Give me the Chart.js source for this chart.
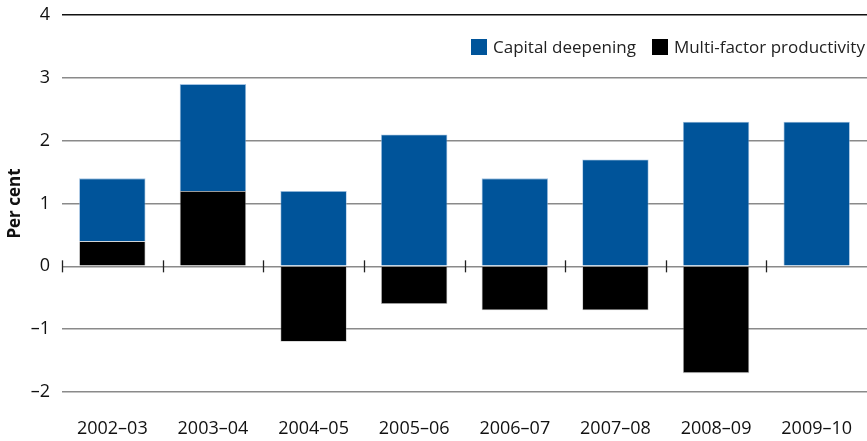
<!DOCTYPE html>
<html>
<head>
<meta charset="utf-8">
<script src="https://cdn.jsdelivr.net/npm/chart.js@4.4.1/dist/chart.umd.min.js"></script>
<style>
  html, body { margin: 0; padding: 0; background: #fff; }
  #wrap { position: relative; width: 867px; height: 441px; }
  #leyenda {
    position: absolute; top: 35px; left: 471px;
    font-family: "Open Sans", sans-serif; font-size: 17px; color: #222;
    display: flex; align-items: center; white-space: nowrap;
  }
  #leyenda .caja { width: 16px; height: 16px; display: inline-block; margin-right: 6px; }
  #leyenda .item { display: flex; align-items: center; margin-right: 16px; }
</style>
</head>
<body>
<div id="wrap">
  <canvas id="grafico" width="867" height="441"></canvas>
  <div id="leyenda">
    <span class="item"><span class="caja" style="background:#00549a"></span>Capital deepening</span>
    <span class="item" style="margin-right:0"><span class="caja" style="background:#000"></span>Multi-factor productivity</span>
  </div>
</div>
<script>
// Datos del gráfico
const periodos = ['2002–03', '2003–04', '2004–05', '2005–06', '2006–07', '2007–08', '2008–09', '2009–10'];
const capitalDeepening = [1.0, 1.7, 1.2, 2.1, 1.4, 1.7, 2.3, 2.3];
const multiFactor      = [0.4, 1.2, -1.2, -0.6, -0.7, -0.7, -1.7, 0.0];
const ticksY = [-2, -1, 0, 1, 2, 3, 4];

const AZUL = '#00549a';
const FUENTE = '"Open Sans", sans-serif';

// Marcas verticales sobre la línea del cero, en los límites de cada categoría
const marcasCero = {
    id: 'marcasCero',
    afterDatasetsDraw(chart) {
        const { ctx, scales: { x, y } } = chart;
        const y0 = y.getPixelForValue(0);
        const paso = x.getPixelForValue(1) - x.getPixelForValue(0);
        ctx.save();
        ctx.strokeStyle = '#222';
        ctx.lineWidth = 1.3;
        for (let i = 0; i < periodos.length; i++) {
            const px = Math.round(x.getPixelForValue(i) - paso / 2) + 0.5;
            ctx.beginPath();
            ctx.moveTo(px, y0 - 6);
            ctx.lineTo(px, y0 + 6);
            ctx.stroke();
        }
        ctx.restore();
    }
};

new Chart(document.getElementById('grafico'), {
    type: 'bar',
    data: {
        labels: periodos,
        datasets: [
            {
                label: 'Multi-factor productivity',
                data: multiFactor,
                backgroundColor: '#000',
                borderColor: 'rgba(150,150,150,0.6)',
                borderWidth: 0.8,
                barPercentage: 0.66,
                categoryPercentage: 1
            },
            {
                label: 'Capital deepening',
                data: capitalDeepening,
                backgroundColor: AZUL,
                borderColor: 'rgba(140,180,220,0.8)',
                borderWidth: 0.8,
                barPercentage: 0.66,
                categoryPercentage: 1
            }
        ]
    },
    options: {
        responsive: false,
        animation: false,
        layout: { padding: { top: 15, right: 0, left: 0, bottom: 0 } },
        plugins: {
            legend: { display: false },
            tooltip: { enabled: false }
        },
        scales: {
            x: {
                stacked: true,
                afterFit(scale) { scale.height = 49; scale.paddingLeft = 0; scale.paddingRight = 0; },
                grid: { display: false },
                border: { display: false },
                ticks: {
                    padding: 18,
                    maxRotation: 0,
                    autoSkip: false,
                    color: '#111',
                    font: { family: FUENTE, size: 18 }
                }
            },
            y: {
                stacked: true,
                min: -2,
                max: 4,
                afterFit(scale) { scale.width = 62; scale.paddingTop = 0; scale.paddingBottom = 0; },
                afterBuildTicks(scale) { scale.ticks = ticksY.map(v => ({ value: v })); },
                border: { display: false },
                grid: {
                    drawTicks: false,
                    lineWidth: 1.5,
                    color: c => (c.tick && c.tick.value === 4) ? '#111' : '#8a8a8a'
                },
                ticks: {
                    padding: 12,
                    color: '#111',
                    font: { family: FUENTE, size: 18 },
                    callback: v => String(v).replace('-', '–')
                },
                title: {
                    display: true,
                    text: 'Per cent',
                    color: '#111',
                    font: { family: FUENTE, size: 17, weight: 'bold' },
                    padding: { top: 5, bottom: 0 }
                }
            }
        }
    },
    plugins: [marcasCero]
});
</script>
</body>
</html>
